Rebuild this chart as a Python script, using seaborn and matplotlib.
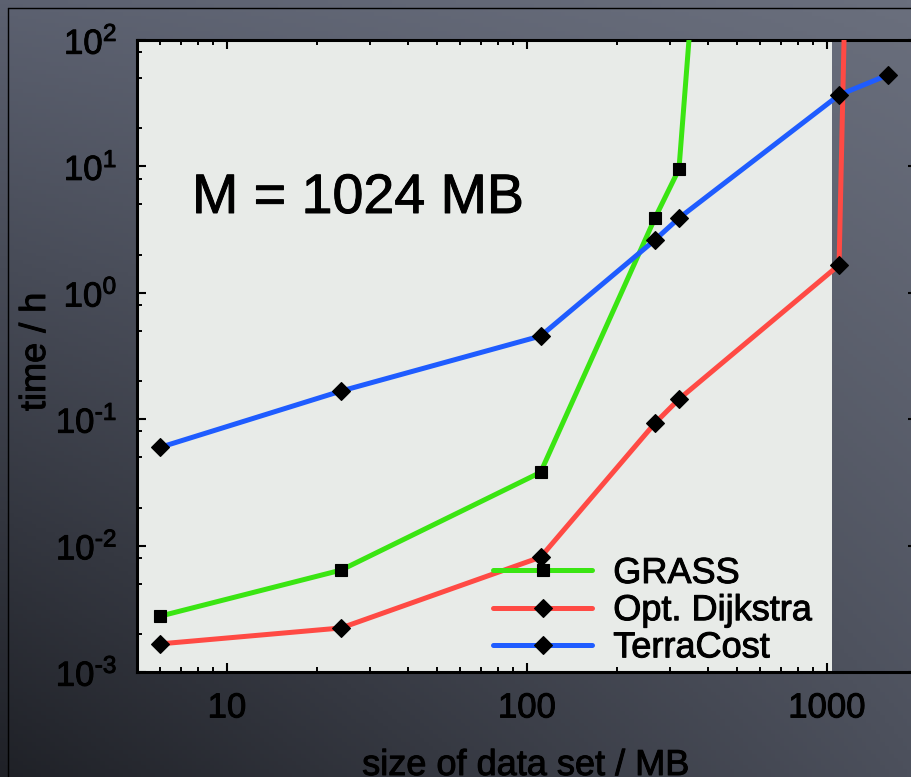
import numpy as np
import pandas as pd
import matplotlib
matplotlib.use("Agg")
import matplotlib.pyplot as plt
import matplotlib.patheffects as pe
import seaborn as sns
from matplotlib.ticker import LogLocator, FixedLocator, NullFormatter
from matplotlib.lines import Line2D

# ---- data ----
grass_size = [6.0, 24.0, 111.0, 267.0, 321.0, 400.0]
grass_time = [0.00277, 0.0064, 0.038, 3.9, 9.5, 8000.0]

dijkstra_size = [6.0, 24.0, 111.0, 267.0, 321.0, 1097.0, 1200.0]
dijkstra_time = [0.00167, 0.00223, 0.0081, 0.093, 0.144, 1.66, 25000.0]

terracost_size = [6.0, 24.0, 111.0, 267.0, 321.0, 1097.0, 1597.0]
terracost_time = [0.060, 0.167, 0.455, 2.62, 3.9, 36.7, 52.9]

series_names = ["GRASS", "Opt. Dijkstra", "TerraCost"]
series_colors = ["#3ae512", "#ff4a44", "#1f5cff"]
series_markers = ["s", "D", "D"]

x_ticks = [10, 100, 1000]
x_tick_labels = ["10", "100", "1000"]
y_ticks = [1e-3, 1e-2, 1e-1, 1e0, 1e1, 1e2]
y_exponents = ["-3", "-2", "-1", "0", "1", "2"]

x_label = "size of data set / MB"
y_label = "time / h"
annotation = "M = 1024 MB"

# ---- style ----
sns.set_theme(style="ticks")
plt.rcParams["font.family"] = ["Liberation Sans", "DejaVu Sans"]
plt.rcParams["mathtext.fontset"] = "custom"
plt.rcParams["mathtext.rm"] = "Liberation Sans"
plt.rcParams["mathtext.default"] = "regular"

heavy = [pe.withStroke(linewidth=0.7, foreground="black")]

W, H = 912, 777
fig = plt.figure(figsize=(W / 100, H / 100), dpi=100)

# background gradient (slide backdrop)
bg = fig.add_axes([0, 0, 1, 1], zorder=0)
bg.set_axis_off()
tl = np.array([0x5c, 0x61, 0x70]) / 255
tr = np.array([0x6a, 0x6f, 0x7d]) / 255
bl = np.array([0x1f, 0x21, 0x27]) / 255
br = np.array([0x4c, 0x50, 0x5c]) / 255
yy, xx = np.mgrid[0:1:200j, 0:1:200j]
grad = ((1 - yy)[..., None] * ((1 - xx)[..., None] * tl + xx[..., None] * tr)
        + yy[..., None] * ((1 - xx)[..., None] * bl + xx[..., None] * br))
bg.imshow(grad, aspect="auto", extent=[0, 1, 0, 1], origin="upper")
bg.set_xlim(0, 1)
bg.set_ylim(0, 1)
bg.add_line(Line2D([8 / W, 8 / W], [0, 1 - 8 / H], color="black", lw=1.0))
bg.add_line(Line2D([8 / W, 1], [1 - 8 / H, 1 - 8 / H], color="black", lw=1.0))

# main axes
x0, x1 = 136.7, 917.3
y0, y1 = 40, 672
ax = fig.add_axes([x0 / W, 1 - y1 / H, (x1 - x0) / W, (y1 - y0) / H], zorder=1)
ax.set_facecolor("none")
ax.set_xscale("log")
ax.set_yscale("log")
ax.set_xlim(5, 2000)
ax.set_ylim(1e-3, 1e2)
ax.axvspan(5, 1040, color="#e8ebe8", zorder=0, lw=0)

for sz, tm, name, col, mk in zip(
        [grass_size, dijkstra_size, terracost_size],
        [grass_time, dijkstra_time, terracost_time],
        series_names, series_colors, series_markers):
    df = pd.DataFrame({"size": sz, "time": tm})
    sns.lineplot(data=df, x="size", y="time", ax=ax, color=col, lw=3.6,
                 marker=mk, markersize=9.0 if mk == "D" else 8.0,
                 markerfacecolor="black", markeredgecolor="black",
                 markeredgewidth=0.8, label=name, zorder=3)

ax.set_xlabel("")
ax.set_ylabel("")

ax.xaxis.set_major_locator(FixedLocator(x_ticks))
ax.set_xticklabels(x_tick_labels)
ax.xaxis.set_minor_locator(LogLocator(base=10, subs=np.arange(2, 10), numticks=50))
ax.xaxis.set_minor_formatter(NullFormatter())
ax.yaxis.set_major_locator(FixedLocator(y_ticks))
ax.set_yticklabels([r"$10^{\text{%s}}$" % e for e in y_exponents])
ax.yaxis.set_minor_locator(LogLocator(base=10, subs=[2, 5, 8], numticks=50))
ax.yaxis.set_minor_formatter(NullFormatter())

ax.tick_params(which="both", direction="in", top=True, right=True, colors="black")
ax.tick_params(which="major", length=6.5, width=1.5)
ax.tick_params(which="minor", length=3.8, width=1.4)
ax.tick_params(axis="x", which="major", pad=14, labelsize=25)
ax.tick_params(axis="y", which="major", pad=14, labelsize=25)
for lab in ax.get_xticklabels() + ax.get_yticklabels():
    lab.set_color("black")
    lab.set_path_effects(heavy)

for s in ax.spines.values():
    s.set_linewidth(2.2)
    s.set_color("black")

ax.text((192 - x0) / (x1 - x0), (y1 - 213) / (y1 - y0), annotation,
        transform=ax.transAxes, fontsize=40, ha="left", va="baseline",
        color="black", path_effects=heavy)

leg = ax.legend(loc="upper left",
                bbox_to_anchor=((493 - x0) / (x1 - x0), (y1 - 556) / (y1 - y0)),
                frameon=False, fontsize=26, handlelength=2.75, handletextpad=0.58,
                labelspacing=0.06, borderpad=0, borderaxespad=0, numpoints=1)
for t in leg.get_texts():
    t.set_color("black")
    t.set_path_effects(heavy)

fig.text(45 / W, 1 - 352 / H, y_label, rotation=90, rotation_mode="anchor",
         ha="center", va="baseline", fontsize=26, color="black", path_effects=heavy)
fig.text(525.5 / W, 2 / H, x_label, ha="center", va="baseline",
         fontsize=26, color="black", path_effects=heavy)

fig.savefig("out.png", dpi=100)
